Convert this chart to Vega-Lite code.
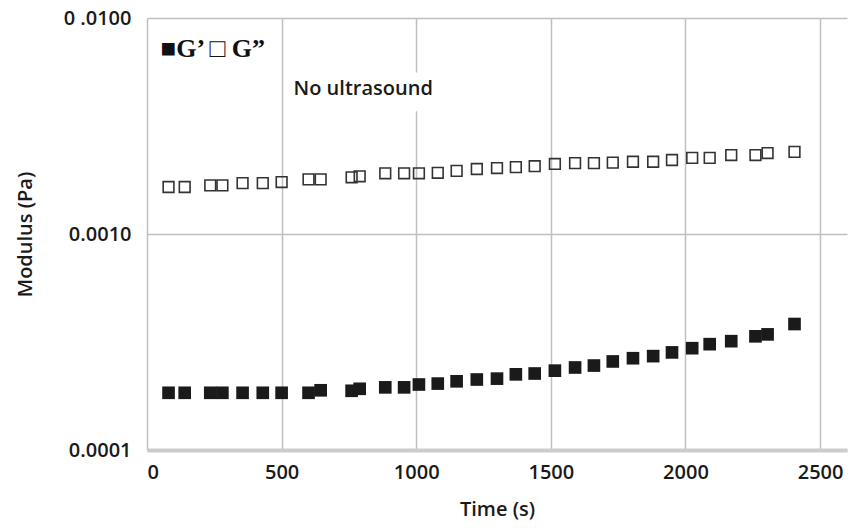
{
  "$schema": "https://vega.github.io/schema/vega-lite/v6.json",
  "autosize": {"type": "fit", "contains": "padding"},
  "width": 857,
  "height": 528,
  "padding": {"left": 15, "top": 8, "right": 10, "bottom": 9},
  "background": "white",
  "config": {
    "view": {"stroke": null},
    "font": "Open Sans",
    "axis": {
      "labelFont": "Open Sans",
      "titleFont": "Open Sans",
      "labelFontSize": 20,
      "titleFontSize": 20,
      "labelFontWeight": 600,
      "titleFontWeight": 600,
      "labelColor": "#1a1a1a",
      "titleColor": "#1a1a1a",
      "gridColor": "#c0c0c0",
      "gridWidth": 1.5,
      "ticks": false
    }
  },
  "datasets": {
    "pts": [
      {"t": 80, "gpp": 0.00165, "gp": 0.000184},
      {"t": 140, "gpp": 0.00165, "gp": 0.000184},
      {"t": 235, "gpp": 0.00168, "gp": 0.000184},
      {"t": 280, "gpp": 0.00168, "gp": 0.000184},
      {"t": 355, "gpp": 0.00172, "gp": 0.000184},
      {"t": 430, "gpp": 0.00172, "gp": 0.000184},
      {"t": 500, "gpp": 0.00174, "gp": 0.000184},
      {"t": 600, "gpp": 0.00179, "gp": 0.000184},
      {"t": 645, "gpp": 0.00179, "gp": 0.000189},
      {"t": 760, "gpp": 0.00183, "gp": 0.000188},
      {"t": 790, "gpp": 0.00185, "gp": 0.000192},
      {"t": 885, "gpp": 0.00191, "gp": 0.000195},
      {"t": 955, "gpp": 0.00191, "gp": 0.000195},
      {"t": 1010, "gpp": 0.00191, "gp": 0.000201},
      {"t": 1080, "gpp": 0.00192, "gp": 0.000203},
      {"t": 1150, "gpp": 0.00196, "gp": 0.000208},
      {"t": 1225, "gpp": 0.00200, "gp": 0.000212},
      {"t": 1300, "gpp": 0.00202, "gp": 0.000214},
      {"t": 1370, "gpp": 0.00204, "gp": 0.000224},
      {"t": 1440, "gpp": 0.00206, "gp": 0.000226},
      {"t": 1515, "gpp": 0.00211, "gp": 0.000233},
      {"t": 1590, "gpp": 0.00213, "gp": 0.000241},
      {"t": 1660, "gpp": 0.00213, "gp": 0.000246},
      {"t": 1730, "gpp": 0.00214, "gp": 0.000257},
      {"t": 1805, "gpp": 0.00216, "gp": 0.000266},
      {"t": 1880, "gpp": 0.00216, "gp": 0.000272},
      {"t": 1950, "gpp": 0.00220, "gp": 0.000283},
      {"t": 2025, "gpp": 0.00225, "gp": 0.000296},
      {"t": 2090, "gpp": 0.00225, "gp": 0.000309},
      {"t": 2170, "gpp": 0.00232, "gp": 0.000319},
      {"t": 2260, "gpp": 0.00232, "gp": 0.000336},
      {"t": 2305, "gpp": 0.00237, "gp": 0.000343},
      {"t": 2405, "gpp": 0.00240, "gp": 0.000383}
    ],
    "notes": [
      {"t": 803, "v": 0.00467, "label": "No ultrasound", "t1": 935, "t2": 1075, "v1": 0.0037, "v2": 0.0056}
    ],
    "legend": [
      {"t": 50, "v": 0.00717, "label": "■G’ □ G”"}
    ]
  },
  "layer": [
    {
      "data": {"name": "notes"},
      "mark": {"type": "rect", "fill": "white"},
      "encoding": {
        "x": {"field": "t1", "type": "quantitative", "scale": {"domain": [0, 2500]},
              "axis": {"values": [0, 500, 1000, 1500, 2000, 2500], "format": "d", "title": "Time (s)", "labelPadding": 12, "titlePadding": 17,
                       "domain": true, "domainColor": "#cccccc", "domainWidth": 4, "grid": true}},
        "x2": {"field": "t2"},
        "y": {"field": "v1", "type": "quantitative", "scale": {"type": "log", "domain": [0.0001, 0.01]},
              "axis": {"values": [0.0001, 0.001, 0.01], "title": "Modulus (Pa)", "labelPadding": 16, "titlePadding": 28,
                       "domain": false, "grid": true,
                       "labelExpr": "datum.value > 0.005 ? '0 .0100' : (datum.value > 0.0005 ? '0.0010' : '0.0001')"}},
        "y2": {"field": "v2"}
      }
    },
    {
      "data": {"name": "pts"},
      "mark": {"type": "point", "shape": "square", "filled": false, "size": 115, "stroke": "#333333", "strokeWidth": 1.6, "opacity": 1},
      "encoding": {
        "x": {"field": "t", "type": "quantitative"},
        "y": {"field": "gpp", "type": "quantitative"}
      }
    },
    {
      "data": {"name": "pts"},
      "mark": {"type": "point", "shape": "square", "filled": true, "size": 160, "fill": "#1a1a1a", "opacity": 1},
      "encoding": {
        "x": {"field": "t", "type": "quantitative"},
        "y": {"field": "gp", "type": "quantitative"}
      }
    },
    {
      "data": {"name": "notes"},
      "mark": {"type": "text", "font": "Open Sans", "fontSize": 20, "fontWeight": 600, "color": "#1a1a1a", "align": "center", "baseline": "middle"},
      "encoding": {
        "x": {"field": "t", "type": "quantitative"},
        "y": {"field": "v", "type": "quantitative"},
        "text": {"field": "label"}
      }
    },
    {
      "data": {"name": "legend"},
      "mark": {"type": "text", "font": "Liberation Serif", "fontWeight": "bold", "fontSize": 26, "color": "#111111", "align": "left", "baseline": "middle"},
      "encoding": {
        "x": {"field": "t", "type": "quantitative"},
        "y": {"field": "v", "type": "quantitative"},
        "text": {"field": "label"}
      }
    }
  ]
}
